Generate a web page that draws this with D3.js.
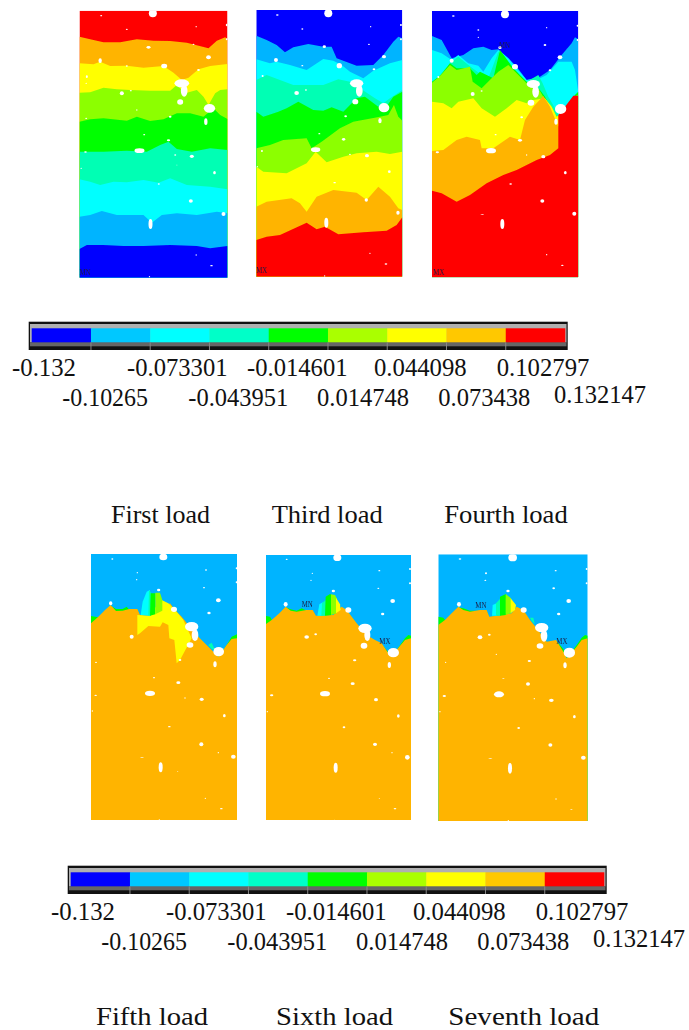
<!DOCTYPE html>
<html><head><meta charset="utf-8">
<script src="https://cdnjs.cloudflare.com/ajax/libs/d3/7.8.5/d3.min.js"></script>
<style>html,body{margin:0;padding:0;background:#fff}svg{display:block}</style>
</head><body><svg id="c" width="689" height="1030"></svg>
<script>
// ---------- values ----------
const contourLevels = ["-0.132","-0.10265","-0.073301","-0.043951","-0.014601","0.014748","0.044098","0.073438","0.102797","0.132147"];
const loadNamesTop = ["First load","Third load","Fourth load"];
const loadNamesBottom = ["Fifth load","Sixth load","Seventh load"];
const bandIds = [0,1,2,3,4,5,6,7,8];

// each entry: [band index, contour line bounding that band from above]
const load1Bands = [
 [7,[[28,110],[60,118],[100,127],[150,127],[200,118],[250,122],[300,123],[350,128],[415,145],[440,122],[465,112],[472,118]]],
 [6,[[28,190],[70,193],[90,185],[120,198],[170,197],[220,203],[280,198],[310,218],[335,240],[355,233],[385,208],[420,198],[472,192]]],
 [5,[[28,278],[60,277],[100,263],[140,268],[180,270],[240,272],[300,272],[320,255],[345,280],[380,270],[400,290],[415,315],[435,280],[450,270],[472,268]]],
 [4,[[28,365],[60,358],[100,355],[170,362],[200,350],[240,363],[280,358],[320,340],[360,340],[400,350],[430,325],[450,345],[472,357]]],
 [3,[[28,455],[100,455],[170,452],[230,455],[270,435],[295,425],[320,447],[365,455],[420,445],[472,450]]],
 [2,[[28,538],[60,545],[90,555],[130,545],[170,547],[220,540],[265,548],[300,535],[350,555],[420,560],[472,568]]],
 [1,[[28,650],[60,645],[95,633],[140,645],[220,645],[245,668],[275,645],[320,640],[380,645],[440,635],[472,640]]],
 [0,[[28,747],[50,735],[100,735],[160,738],[220,738],[300,735],[380,738],[420,745],[472,738]]]
];
const load3Bands = [
 [1,[[19,107],[50,120],[80,135],[105,157],[130,142],[175,132],[220,140],[245,140],[260,175],[320,197],[370,195],[400,165],[430,125],[445,110],[457,115]]],
 [2,[[19,178],[60,190],[80,185],[120,195],[170,210],[220,177],[250,182],[275,195],[300,215],[340,235],[370,212],[420,190],[457,180]]],
 [3,[[19,240],[50,225],[90,240],[130,255],[190,255],[220,255],[265,238],[300,245],[330,265],[375,295],[400,310],[420,295],[457,270]]],
 [4,[[19,335],[40,350],[85,335],[110,325],[145,305],[190,330],[220,332],[245,322],[280,335],[320,295],[345,290],[385,320],[415,312],[430,290],[457,275]]],
 [5,[[19,445],[60,435],[100,420],[170,415],[185,445],[215,425],[270,385],[310,365],[390,350],[415,345],[432,315],[445,350],[457,362]]],
 [6,[[19,500],[40,515],[110,520],[170,490],[197,455],[230,487],[280,470],[320,460],[380,455],[420,462],[457,455]]],
 [7,[[19,620],[50,605],[125,595],[150,610],[170,635],[200,590],[250,570],[320,578],[350,600],[385,560],[420,590],[445,625],[457,630]]],
 [8,[[19,720],[50,710],[90,705],[170,668],[200,688],[225,680],[265,703],[340,697],[410,692],[440,675],[457,652]]]
];
const load4Bands = [
 [1,[[546,108],[575,120],[605,175],[640,165],[670,145],[700,140],[725,150],[745,148],[775,175],[800,200],[830,240],[870,230],[900,210],[935,165],[965,130],[975,112],[985,118]]],
 [2,[[546,150],[575,160],[605,180],[625,165],[655,190],[685,197],[700,215],[725,175],[745,150],[775,175],[800,205],[830,240],[870,235],[890,225],[925,185],[965,185],[975,210],[985,275]]],
 [3,[[546,245],[570,225],[600,190],[625,170],[655,195],[695,225],[715,235],[745,155],[790,210],[830,245],[865,225],[878,250],[895,290],[915,325],[925,345],[950,320],[985,275]]],
 [4,[[546,245],[570,228],[600,190],[620,205],[660,205],[680,225],[690,215],[730,235],[750,150],[790,205],[830,245],[870,270],[885,290],[915,345],[925,350],[950,320],[975,285],[985,275]]],
 [5,[[546,248],[570,228],[600,195],[620,210],[660,200],[668,245],[695,265],[725,235],[745,215],[775,195],[800,220],[830,250],[865,265],[880,290],[905,320],[920,350],[945,330],[970,290],[985,285]]],
 [6,[[546,305],[580,310],[605,325],[625,305],[670,295],[695,325],[735,350],[770,325],[800,300],[830,310],[850,300],[885,295],[905,320],[920,350],[945,335],[970,292],[985,288]]],
 [7,[[546,453],[580,450],[620,420],[650,410],[690,420],[695,445],[730,445],[780,410],[810,420],[825,360],[850,320],[880,288],[900,320],[925,380],[945,340],[970,295],[985,290]]],
 [8,[[546,572],[575,580],[620,605],[660,585],[710,550],[760,525],[800,510],[860,480],[900,465],[925,445],[925,345],[945,320],[970,287],[985,287]]]
];
const load5Bands = [
 [4,[[33,213],[45,215],[55,217],[75,197],[92,182],[108,192],[128,192],[140,185],[148,194],[172,194],[180,212],[210,214],[245,197],[270,177],[285,197],[305,217],[325,242],[345,267],[370,292],[395,317],[415,337],[440,300],[455,275],[471,268]]],
 [7,[[33,235],[55,215],[75,195],[92,180],[108,198],[128,197],[148,192],[172,192],[180,210],[210,212],[245,195],[270,175],[285,195],[305,215],[325,240],[345,265],[370,290],[395,315],[415,335],[440,300],[455,282],[471,280]]]
];
const load6Bands = [
 [4,[[558,213],[570,215],[577,227],[598,207],[617,187],[632,193],[650,197],[665,190],[680,197],[698,197],[708,214],[760,212],[785,187],[800,197],[830,237],[860,272],[885,287],[905,297],[925,322],[945,322],[975,280],[985,270],[993,272]]],
 [7,[[558,237],[575,225],[598,205],[617,185],[632,197],[650,200],[680,195],[698,195],[708,212],[760,210],[785,185],[800,195],[830,235],[860,270],[885,285],[905,295],[925,325],[945,320],[975,285],[993,280]]]
];
const load7Bands = [
 [4,[[25,215],[40,218],[47,227],[65,207],[85,187],[100,190],[120,197],[150,197],[170,197],[178,217],[200,214],[245,207],[260,187],[280,197],[300,227],[320,252],[350,292],[378,287],[390,300],[400,312],[410,340],[440,300],[455,278],[465,270],[473,272]]],
 [7,[[25,240],[45,225],[65,205],[85,185],[100,195],[120,200],[150,195],[170,195],[178,215],[200,212],[245,205],[260,185],[280,195],[300,225],[320,250],[350,290],[378,285],[400,320],[410,340],[440,305],[455,285],[473,280]]]
];
// small patches of other bands: [band index, outline]
const load5Patches = [
 [3,[[385,300],[395,293],[405,315],[395,312]]],
 [6,[[172,210],[205,212],[245,165],[265,175],[290,200],[310,225],[335,280],[300,345],[290,355],[283,285],[268,280],[265,240],[248,232],[240,245],[205,243],[180,265],[172,270]]],
 [2,[[182,210],[188,170],[200,140],[210,135],[210,212]]],
 [3,[[205,212],[207,135],[213,143],[213,212]]],
 [4,[[210,212],[212,145],[226,145],[226,208]]],
 [5,[[226,208],[226,143],[240,143],[247,165],[247,197]]]
];
const load6Patches = [
 [2,[[712,212],[718,178],[728,172],[728,212]]],
 [3,[[724,212],[726,175],[737,165],[737,212]]],
 [4,[[735,212],[737,155],[750,147],[755,150],[755,210]]],
 [5,[[753,210],[753,148],[765,150],[770,160],[770,205]]],
 [6,[[768,205],[768,158],[780,178],[782,195]]]
];
const load7Patches = [
 [3,[[300,218],[310,218],[314,238],[305,228]]],
 [2,[[186,212],[188,180],[200,175],[200,212]]],
 [3,[[198,212],[198,175],[212,160],[212,212]]],
 [4,[[210,212],[210,155],[228,147],[228,210]]],
 [5,[[227,210],[227,147],[243,160],[243,205]]],
 [6,[[242,205],[242,160],[258,180],[255,195]]]
];
// voids in the specimen: [x, y, half width, half height]
const load1Voids = [[248,40,12,12],[93,47,3,2],[170,88,3,2],[378,80,2,2],[470,75,3,4],[470,118,3,3],[235,142,6,4],[370,133,3,2],[90,182,5,7],[415,172,7,6],[282,198,9,7],[385,210,4,3],[170,198,3,2],[50,230,3,4],[48,250,2,2],[335,250,22,12],[342,272,10,18],[155,280,6,6],[182,272,3,2],[330,306,9,8],[418,325,17,13],[407,365,5,10],[300,350,4,3],[48,355,3,2],[222,404,3,2],[295,421,5,3],[208,452,15,7],[365,469,6,5],[46,456,4,2],[315,465,3,2],[433,518,4,5],[33,505,2,2],[266,552,3,2],[362,603,6,5],[460,642,6,6],[241,672,6,15],[378,765,2,2],[424,797,4,2],[238,830,2,2],[320,495,2,1],[200,330,2,2]];
const load3Voids = [[235,40,12,12],[82,45,4,2],[157,87,3,2],[362,80,2,2],[453,75,3,3],[453,118,3,3],[223,140,5,4],[357,133,3,2],[78,180,6,6],[402,170,6,5],[268,197,8,8],[372,208,4,3],[157,197,3,2],[38,228,3,3],[320,250,20,12],[328,272,10,18],[140,279,7,6],[168,270,3,2],[316,305,9,8],[402,323,16,14],[390,362,5,8],[287,349,4,3],[36,453,3,3],[208,401,3,2],[281,418,5,4],[197,449,14,7],[351,467,6,5],[300,463,3,2],[418,515,4,4],[254,548,4,2],[349,600,5,5],[444,638,5,6],[229,668,6,15],[360,760,2,2],[408,792,4,2],[224,828,2,2],[22,500,2,2]];
const load4Voids = [[765,43,12,12],[610,48,4,2],[685,90,3,2],[890,83,2,2],[983,77,3,3],[983,120,3,3],[750,143,5,4],[885,135,4,3],[605,182,6,6],[930,172,7,6],[795,200,9,8],[900,211,4,3],[685,112,2,2],[565,231,3,3],[850,252,20,12],[857,275,10,18],[668,282,6,6],[695,273,3,2],[843,308,10,9],[932,327,17,15],[918,365,5,9],[815,352,4,3],[562,457,5,3],[737,404,3,2],[810,421,6,4],[723,452,15,8],[880,470,6,5],[830,465,2,2],[946,518,4,5],[782,552,4,2],[877,603,6,5],[973,641,6,6],[757,672,6,15],[890,764,2,2],[937,796,4,2],[697,643,6,1]];
const load5Voids = [[250,36,12,10],[97,42,3,2],[172,83,2,2],[378,75,3,2],[470,70,3,3],[470,112,3,3],[236,135,5,4],[372,128,3,2],[92,175,5,6],[415,166,7,6],[282,193,9,8],[387,204,5,4],[170,104,2,2],[335,245,20,14],[345,270,10,18],[155,275,6,6],[330,300,10,8],[416,320,16,14],[405,358,5,9],[300,345,4,3],[48,352,3,2],[222,398,3,2],[295,413,6,4],[210,445,15,8],[365,463,6,5],[47,451,4,2],[315,459,2,2],[433,512,4,5],[268,545,4,2],[364,598,6,6],[186,637,6,1],[460,635,7,6],[242,667,6,15],[376,760,2,2],[424,791,4,2],[238,825,2,2],[415,623,2,2],[37,498,2,2],[293,679,2,1]];
const load6Voids = [[772,38,12,10],[620,43,3,2],[697,85,2,2],[898,77,3,2],[990,72,3,3],[990,115,3,3],[760,138,5,4],[895,130,3,2],[617,178,6,7],[938,168,7,6],[805,195,9,8],[908,207,5,4],[693,106,2,2],[855,250,20,14],[862,270,9,18],[680,276,7,5],[707,268,4,3],[852,302,10,9],[940,323,17,14],[928,360,5,9],[824,346,5,3],[575,451,5,3],[747,400,3,2],[818,416,6,4],[735,446,15,8],[888,464,6,5],[955,513,4,5],[792,547,4,3],[885,598,6,5],[982,637,7,7],[767,668,6,15],[898,761,2,1],[945,791,4,2],[936,623,2,2],[562,500,2,2],[763,826,2,2]];
const load7Voids = [[248,38,13,11],[90,42,4,2],[168,85,3,3],[377,77,3,2],[470,72,3,3],[470,115,3,3],[234,138,5,4],[371,130,4,3],[87,178,6,7],[416,168,7,6],[281,195,9,8],[386,207,5,4],[166,106,3,2],[335,248,20,14],[342,272,10,18],[150,277,7,6],[178,269,4,3],[330,303,10,8],[418,323,17,15],[405,361,5,9],[298,348,5,3],[47,352,2,2],[220,400,4,1],[294,417,6,5],[207,448,15,9],[364,466,7,5],[43,453,5,3],[433,515,4,5],[266,549,4,3],[361,600,6,5],[460,638,7,6],[240,670,6,16],[181,641,6,1],[378,762,2,2],[424,793,4,1],[235,827,2,2],[30,500,2,2],[313,461,2,2],[199,328,2,2]];
// ANSYS markers: [text, x, y]
const load1Marks = [["MN",28,825]];
const load3Marks = [["MX",19,820]];
const load4Marks = [["MX",550,825],["MN",747,145]];
const load5Marks = [];
const load6Marks = [["MN",665,187],["MX",898,296]];
const load7Marks = [["MN",136,189],["MX",379,298]];

// ---------- layout and styles ----------
const contourColors = ["#0000ff","#00b4ff","#00ffff","#00ffb4","#00ff00","#8cff00","#ffff00","#ffb400","#ff0000"];
const barColors = ["#0000ff","#00c8ff","#00ffff","#00ffc8","#00ff00","#aaff00","#ffff00","#ffc800","#ff0000"];
const panels = [
 {base:8,bands:load1Bands,patches:[],voids:load1Voids,marks:load1Marks,dx:[28,472],dy:[32,833],rx:[79.5,227.5],ry:[10.7,277.7]},
 {base:0,bands:load3Bands,patches:[],voids:load3Voids,marks:load3Marks,dx:[19,457],dy:[30,830],rx:[256.3,402.3],ry:[10,276.7]},
 {base:0,bands:load4Bands,patches:[],voids:load4Voids,marks:load4Marks,dx:[546,985],dy:[33,832],rx:[432,578.3],ry:[11,277.3]},
 {base:1,bands:load5Bands,patches:load5Patches,voids:load5Voids,marks:load5Marks,dx:[33,471],dy:[27,825],rx:[91,237],ry:[554,820]},
 {base:1,bands:load6Bands,patches:load6Patches,voids:load6Voids,marks:load6Marks,dx:[558,993],dy:[30,825],rx:[266,411],ry:[555,820]},
 {base:1,bands:load7Bands,patches:load7Patches,voids:load7Voids,marks:load7Marks,dx:[25,473],dy:[28,828],rx:[438.3,587.7],ry:[554.3,821]}
];
const colorbars = [{ox:0,oy:0},{ox:39,oy:544}];
const labelLefts = [12,62.3,127,188.3,247,317,374,438.3,496.7,554];
const labelWidths = [64,85.7,100.5,100,100.5,92,92.7,92,92.7,92];
const captions = [
 {names:loadNamesTop,lefts:[111,271.7,444.3],rights:[210,382.7,567.7],base:523.3,size:25},
 {names:loadNamesBottom,lefts:[96,276,448.3],rights:[208,393,599.3],base:1025,size:26}
];
const svg = d3.select("#c");
const serif = "'Liberation Serif','Times New Roman',serif";
const defs = svg.append("defs");
defs.append("filter").attr("id","soft").attr("x","-5%").attr("y","-5%").attr("width","110%").attr("height","110%")
  .append("feGaussianBlur").attr("stdDeviation",0.45);

panels.forEach((p,i)=>{
  const x = d3.scaleLinear().domain(p.dx).range(p.rx);
  const y = d3.scaleLinear().domain(p.dy).range(p.ry);
  const colour = d3.scaleOrdinal().domain(bandIds).range(contourColors);
  defs.append("clipPath").attr("id","cp"+i).append("rect")
    .attr("x",p.rx[0]).attr("y",p.ry[0]).attr("width",p.rx[1]-p.rx[0]).attr("height",p.ry[1]-p.ry[0]);
  const outer = svg.append("g").attr("filter","url(#soft)");
  const g = outer.append("g").attr("clip-path","url(#cp"+i+")");
  g.append("rect").attr("x",p.rx[0]).attr("y",p.ry[0]).attr("width",p.rx[1]-p.rx[0]).attr("height",p.ry[1]-p.ry[0])
    .attr("fill",colour(p.base));
  const area = d3.area().x(d=>x(d[0])).y1(d=>y(d[1])).y0(y(p.dy[1]));
  g.selectAll("path.band").data(p.bands).join("path").attr("class","band")
    .attr("d",d=>area(d[1])).attr("fill",d=>colour(d[0]));
  const line = d3.line().x(d=>x(d[0])).y(d=>y(d[1]));
  g.selectAll("path.patch").data(p.patches).join("path").attr("class","patch")
    .attr("d",d=>line(d[1])+"Z").attr("fill",d=>colour(d[0]));
  const sx = (p.rx[1]-p.rx[0])/(p.dx[1]-p.dx[0]), sy = (p.ry[1]-p.ry[0])/(p.dy[1]-p.dy[0]);
  g.selectAll("ellipse").data(p.voids).join("ellipse")
    .attr("cx",d=>x(d[0])).attr("cy",d=>y(d[1])).attr("rx",d=>d[2]*sx).attr("ry",d=>d[3]*sy).attr("fill","#fff");
  outer.selectAll("text").data(p.marks).join("text")
    .attr("x",d=>x(d[1])).attr("y",d=>y(d[2])).text(d=>d[0])
    .attr("font-family",serif).attr("font-size",8).attr("textLength",11).attr("lengthAdjust","spacingAndGlyphs")
    .attr("fill","#1a1a40");
});

colorbars.forEach(b=>{
  const g = svg.append("g").attr("transform",`translate(${b.ox},${b.oy})`);
  const x = d3.scaleLinear().domain([0,bandIds.length]).range([31.7,565]);
  const colour = d3.scaleOrdinal().domain(bandIds).range(barColors);
  g.append("rect").attr("x",28.7).attr("y",321.7).attr("width",539).attr("height",28.3).attr("fill","#111");
  g.append("rect").attr("x",30).attr("y",324).attr("width",536.5).attr("height",18.5).attr("fill","#b0b0b0");
  g.append("rect").attr("x",30).attr("y",342.3).attr("width",536.5).attr("height",4).attr("fill","#666");
  g.selectAll("rect.seg").data(bandIds).join("rect").attr("class","seg")
    .attr("x",d=>x(d)).attr("width",d=>x(d+1)-x(d)+0.3).attr("y",328.3).attr("height",14).attr("fill",d=>colour(d));
  g.selectAll("line").data(d3.range(1,bandIds.length)).join("line")
    .attr("x1",d=>x(d)).attr("x2",d=>x(d)).attr("y1",342.3).attr("y2",350)
    .attr("stroke","#888").attr("stroke-width",1);
  g.selectAll("text").data(contourLevels).join("text")
    .attr("x",(d,i)=>labelLefts[i])
    .attr("y",(d,i)=> i===9 ? 403.3 : (i%2===0 ? 376 : 405.7))
    .text(d=>d).attr("font-family",serif).attr("font-size",25).attr("fill","#111")
    .attr("textLength",(d,i)=>labelWidths[i]).attr("lengthAdjust","spacingAndGlyphs");
});

captions.forEach(c=>{
  svg.append("g").selectAll("text").data(c.names).join("text")
    .attr("x",(d,i)=>c.lefts[i]).attr("y",c.base).text(d=>d)
    .attr("font-family",serif).attr("font-size",c.size).attr("fill","#111")
    .attr("textLength",(d,i)=>c.rights[i]-c.lefts[i]).attr("lengthAdjust","spacingAndGlyphs");
});
</script></body></html>
